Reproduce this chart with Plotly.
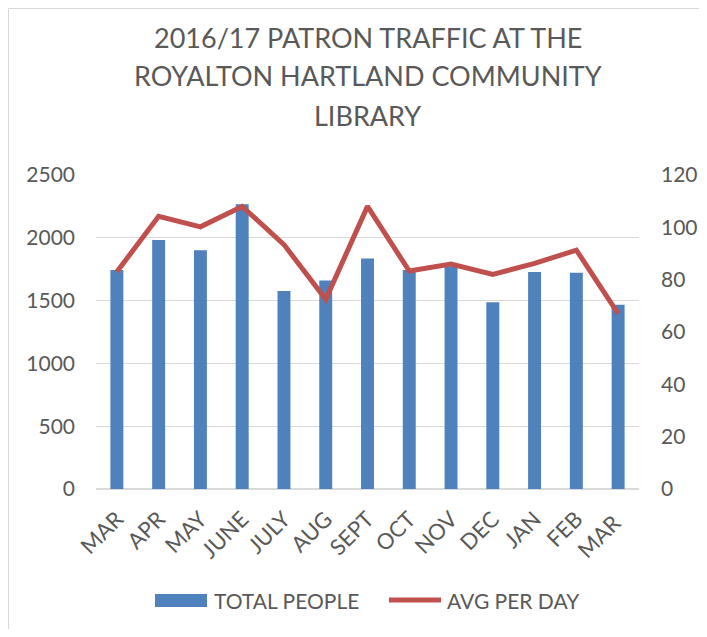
import plotly.graph_objects as go

months = ["MAR", "APR", "MAY", "JUNE", "JULY", "AUG", "SEPT", "OCT", "NOV", "DEC", "JAN", "FEB", "MAR "]
total_people = [1743, 1982, 1900, 2268, 1576, 1661, 1836, 1743, 1772, 1486, 1727, 1722, 1467]
avg_per_day = [83, 104.2, 100.2, 108, 93.4, 72.5, 108, 83.3, 86, 82, 86.2, 91.3, 67]
title_lines = ["2016/17 PATRON TRAFFIC AT THE", "ROYALTON HARTLAND COMMUNITY", "LIBRARY"]

FONT = "Lato"
GREY = "#595959"
BLUE = "#4F81BD"
RED = "#C0504D"

fig = go.Figure()
fig.add_trace(go.Bar(
    x=months, y=total_people, name="TOTAL PEOPLE",
    marker=dict(color=BLUE, line=dict(width=0)), width=0.31,
))
fig.add_trace(go.Scatter(
    x=months, y=avg_per_day, name="AVG PER DAY", yaxis="y2",
    mode="lines", line=dict(color=RED, width=5),
))

# page body has an 8px margin; figure is sized/positioned to compensate
W, H = 691, 621
L, T, R, B = 88, 167, 60, 140
PW, PH = W - L - R, H - T - B


def px(fx):
    return (fx - L) / PW


def py(fy):
    return (H - B - fy) / PH


annotations = []
for i, line in enumerate(title_lines):
    annotations.append(dict(
        text=line, xref="paper", yref="paper", x=0.5, y=py(29 + 39 * i),
        xanchor="center", yanchor="middle", showarrow=False,
        font=dict(family=FONT, size=27, color=GREY),
    ))
annotations.append(dict(
    text="TOTAL PEOPLE", xref="paper", yref="paper", x=px(204), y=py(592),
    xanchor="left", yanchor="middle", showarrow=False,
    font=dict(family=FONT, size=21, color=GREY),
))
annotations.append(dict(
    text="AVG PER DAY", xref="paper", yref="paper", x=px(437), y=py(592),
    xanchor="left", yanchor="middle", showarrow=False,
    font=dict(family=FONT, size=21, color=GREY),
))

shapes = [
    dict(type="line", xref="paper", yref="paper",
         x0=px(0.5), x1=px(0.5), y0=py(H + 50), y1=py(0.5),
         line=dict(color="#D9D9D9", width=1), layer="below"),
    dict(type="line", xref="paper", yref="paper",
         x0=px(0.5), x1=px(W + 50), y0=py(0.5), y1=py(0.5),
         line=dict(color="#D9D9D9", width=1), layer="below"),
    dict(type="rect", xref="paper", yref="paper",
         x0=px(147), x1=px(199), y0=py(599), y1=py(586),
         line=dict(width=0), fillcolor=BLUE),
    dict(type="line", xref="paper", yref="paper",
         x0=px(381), x1=px(433), y0=py(592), y1=py(592),
         line=dict(color=RED, width=5)),
]

fig.update_layout(
    width=W, height=H,
    paper_bgcolor="white", plot_bgcolor="white",
    margin=dict(l=L, r=R, t=T, b=B, autoexpand=False),
    font=dict(family=FONT, color=GREY, size=20),
    xaxis=dict(
        tickangle=-45, showgrid=False, showline=False, ticks="",
        tickfont=dict(size=22, color=GREY), automargin=False, ticklabelstandoff=12,
    ),
    yaxis=dict(
        range=[0, 2500], dtick=500, showgrid=True, gridcolor="#D9D9D9", gridwidth=1,
        zeroline=True, zerolinecolor="#D9D9D9", zerolinewidth=1.5,
        ticks="", tickfont=dict(size=21, color=GREY), ticklabelstandoff=20,
        automargin=False,
    ),
    yaxis2=dict(
        range=[0, 120], dtick=20, overlaying="y", side="right", showgrid=False,
        zeroline=False, ticks="", tickfont=dict(size=21, color=GREY),
        ticklabelstandoff=21, automargin=False,
    ),
    bargap=0.69,
    showlegend=False,
    annotations=annotations,
    shapes=shapes,
)

fig.write_html("out.html")
